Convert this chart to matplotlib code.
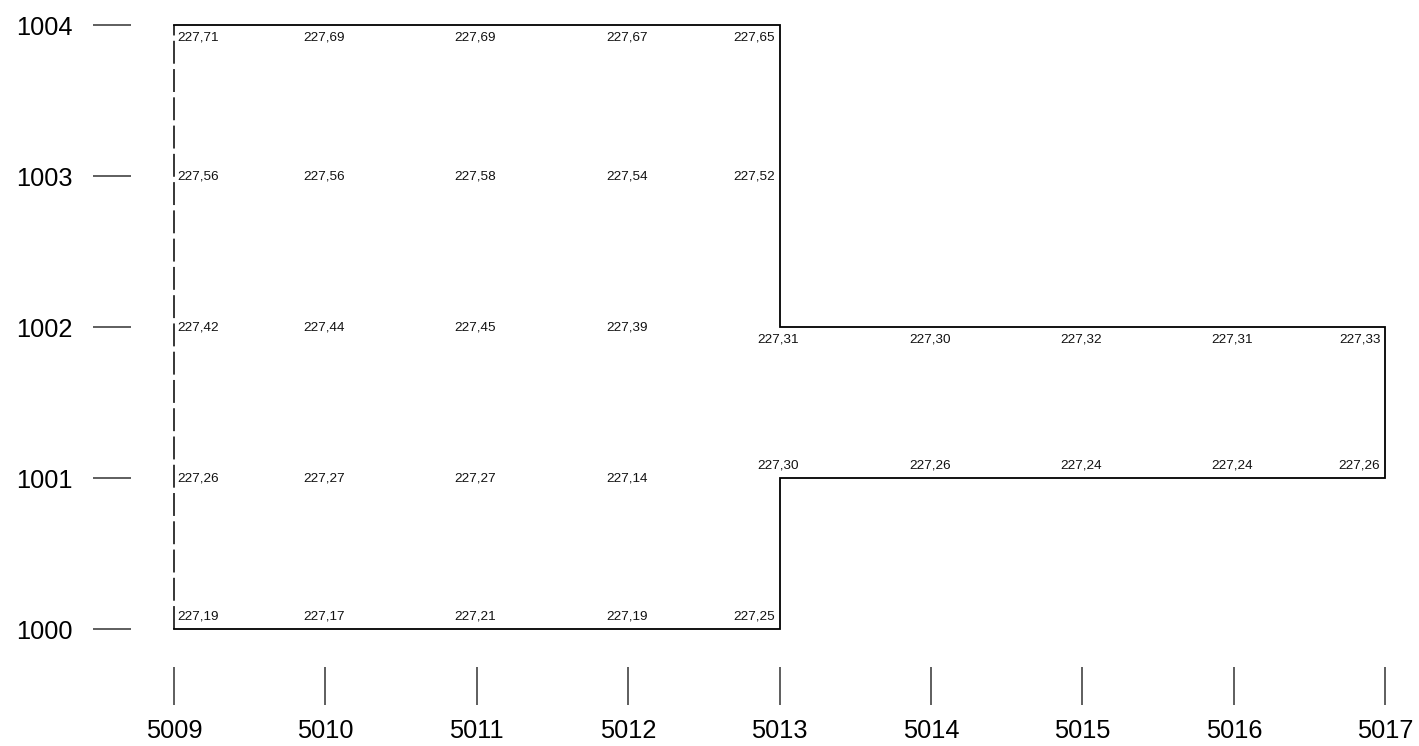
import matplotlib.pyplot as plt

# grid points (easting, northing) and measured levels
east = [5009, 5010, 5011, 5012, 5013,
        5009, 5010, 5011, 5012, 5013,
        5009, 5010, 5011, 5012, 5013, 5014, 5015, 5016, 5017,
        5009, 5010, 5011, 5012, 5013, 5014, 5015, 5016, 5017,
        5009, 5010, 5011, 5012, 5013]
north = [1004] * 5 + [1003] * 5 + [1002] * 9 + [1001] * 9 + [1000] * 5
level = [227.71, 227.69, 227.69, 227.67, 227.65,
         227.56, 227.56, 227.58, 227.54, 227.52,
         227.42, 227.44, 227.45, 227.39, 227.31, 227.30, 227.32, 227.31, 227.33,
         227.26, 227.27, 227.27, 227.14, 227.30, 227.26, 227.24, 227.24, 227.26,
         227.19, 227.17, 227.21, 227.19, 227.25]

# outline of the area
outline_x = [5009, 5013, 5013, 5017, 5017, 5013, 5013, 5009]
outline_y = [1004, 1004, 1002, 1002, 1001, 1001, 1000, 1000]
dashed_x = [5009, 5009]
dashed_y = [1000, 1004]

xticks = [5009, 5010, 5011, 5012, 5013, 5014, 5015, 5016, 5017]
yticks = [1000, 1001, 1002, 1003, 1004]

plt.rcParams['font.family'] = ['Liberation Sans', 'DejaVu Sans']

fig = plt.figure(figsize=(14.19, 7.46), dpi=100)
ax = fig.add_axes([93 / 1419, 41 / 746, 1 - 93 / 1419, 1 - 41 / 746])

ax.plot(outline_x, outline_y, color='black', lw=1.3, solid_joinstyle='miter')
ax.plot(dashed_x, dashed_y, color='black', lw=1.1, linestyle=(0, (15, 3.5)))


def placement(x, y):
    # horizontal: keep text inside the outline
    if x == 5009:
        ha, dx = 'left', 2.5
    elif x == 5017 or (x == 5013 and y in (1000, 1003, 1004)):
        ha, dx = 'right', -3.5
    else:
        ha, dx = 'center', -1
    # vertical
    if y == 1004 or (y == 1002 and x >= 5013):
        dy = -9
    elif y == 1000 or (y == 1001 and x >= 5013):
        dy = 9
    else:
        dy = 0
    return ha, dx, dy


for x, y, v in zip(east, north, level):
    ha, dx, dy = placement(x, y)
    ax.annotate(f"{v:.2f}".replace('.', ','), (x, y), xytext=(dx, dy),
                textcoords='offset points', ha=ha, va='center',
                fontsize=9.7, color='#111111')

ax.set_xlim(5008.465, 5017.223)
ax.set_ylim(999.497, 1004.166)

ax.set_xticks(xticks)
ax.set_yticks(yticks)
ax.set_xticklabels([str(t) for t in xticks])
ax.set_yticklabels([str(t) for t in yticks])
ax.tick_params(axis='x', direction='in', length=27.5, width=1.1, pad=10,
               labelsize=18.3, color='#333333')
ax.tick_params(axis='y', direction='in', length=27.5, width=1.1, pad=15,
               labelsize=18.3, color='#333333')
for s in ax.spines.values():
    s.set_visible(False)
ax.patch.set_visible(False)

fig.savefig('out.png', dpi=100)
